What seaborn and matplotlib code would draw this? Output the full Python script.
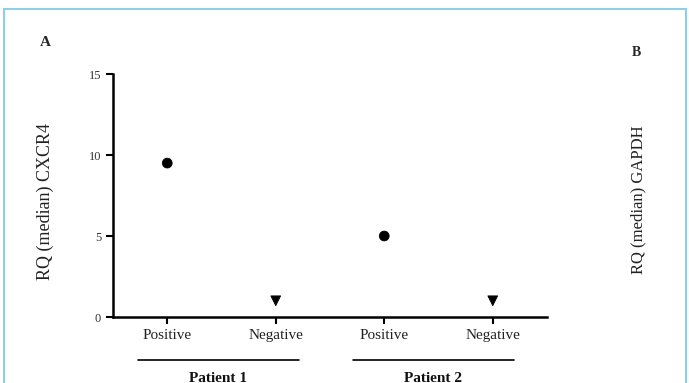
import matplotlib
matplotlib.use("Agg")
import matplotlib.pyplot as plt
from matplotlib.patches import Rectangle
from matplotlib.lines import Line2D
import seaborn as sns
import pandas as pd

categories = ["Positive", "Negative", "Positive", "Negative"]
patients = ["Patient 1", "Patient 2"]
values = [9.5, 1.0, 5.0, 1.0]
status = ["Positive", "Negative", "Positive", "Negative"]
y_ticks = [0, 5, 10, 15]

sns.set_theme(style="ticks")
plt.rcParams['font.family'] = ['Liberation Serif', 'DejaVu Serif']

df = pd.DataFrame({"pos": list(range(len(values))), "RQ": values, "status": status})

fig = plt.figure(figsize=(6.89, 3.83), dpi=100)
ax = fig.add_axes([113/689, 1-317/383, (547-113)/689, (317-74)/383])

sns.scatterplot(data=df, x="pos", y="RQ", style="status",
                markers={"Positive": "o", "Negative": "v"},
                color="black", s=50, edgecolor="black", legend=False, ax=ax)

ax.set_xlim(-0.5, 3.5)
ax.set_ylim(0, 15)
ax.set_yticks(y_ticks)
ax.set_yticklabels([str(t) for t in y_ticks], fontsize=9, color="#333333")
ax.set_xticks(range(len(categories)))
ax.set_xticklabels(categories, fontsize=11, color="#222222")
ax.set_xlabel("")
ax.set_ylabel("")
fig.text(45/689, 1-202/383, "RQ (median) CXCR4", fontsize=13, rotation=90,
         ha="center", va="center", color="#222222")
for s in ["top", "right"]:
    ax.spines[s].set_visible(False)
for s in ["left", "bottom"]:
    ax.spines[s].set_linewidth(1.8)
    ax.spines[s].set_color("black")
ax.tick_params(axis="both", direction="out", length=5, width=1.5, color="black")

# patient group underlines and labels
for i, p in enumerate(patients):
    x0 = (138 + i*215)/689
    x1 = (299 + i*215)/689
    fig.add_artist(Line2D([x0, x1], [1-360/383, 1-360/383], color="black", lw=1.2))
    fig.text((x0+x1)/2, 1-378/383, p, ha="center", va="center", fontsize=11,
             fontweight="bold", color="#111111")

fig.text(45/689, 1-42/383, "A", fontsize=11, fontweight="bold", ha="center", va="center")
fig.text(636/689, 1-52/383, "B", fontsize=10, fontweight="bold", ha="center", va="center")
fig.text(638/689, 1-200/383, "RQ (median) GAPDH", fontsize=12, rotation=90,
         ha="center", va="center", color="#222222")

fig.add_artist(Rectangle((4/689, -0.05), (686-4)/689, 1.05-9/383, transform=fig.transFigure,
                         fill=False, edgecolor="#8ecfe6", lw=1.5, clip_on=False))

fig.savefig("out.png", dpi=100, facecolor="white")
